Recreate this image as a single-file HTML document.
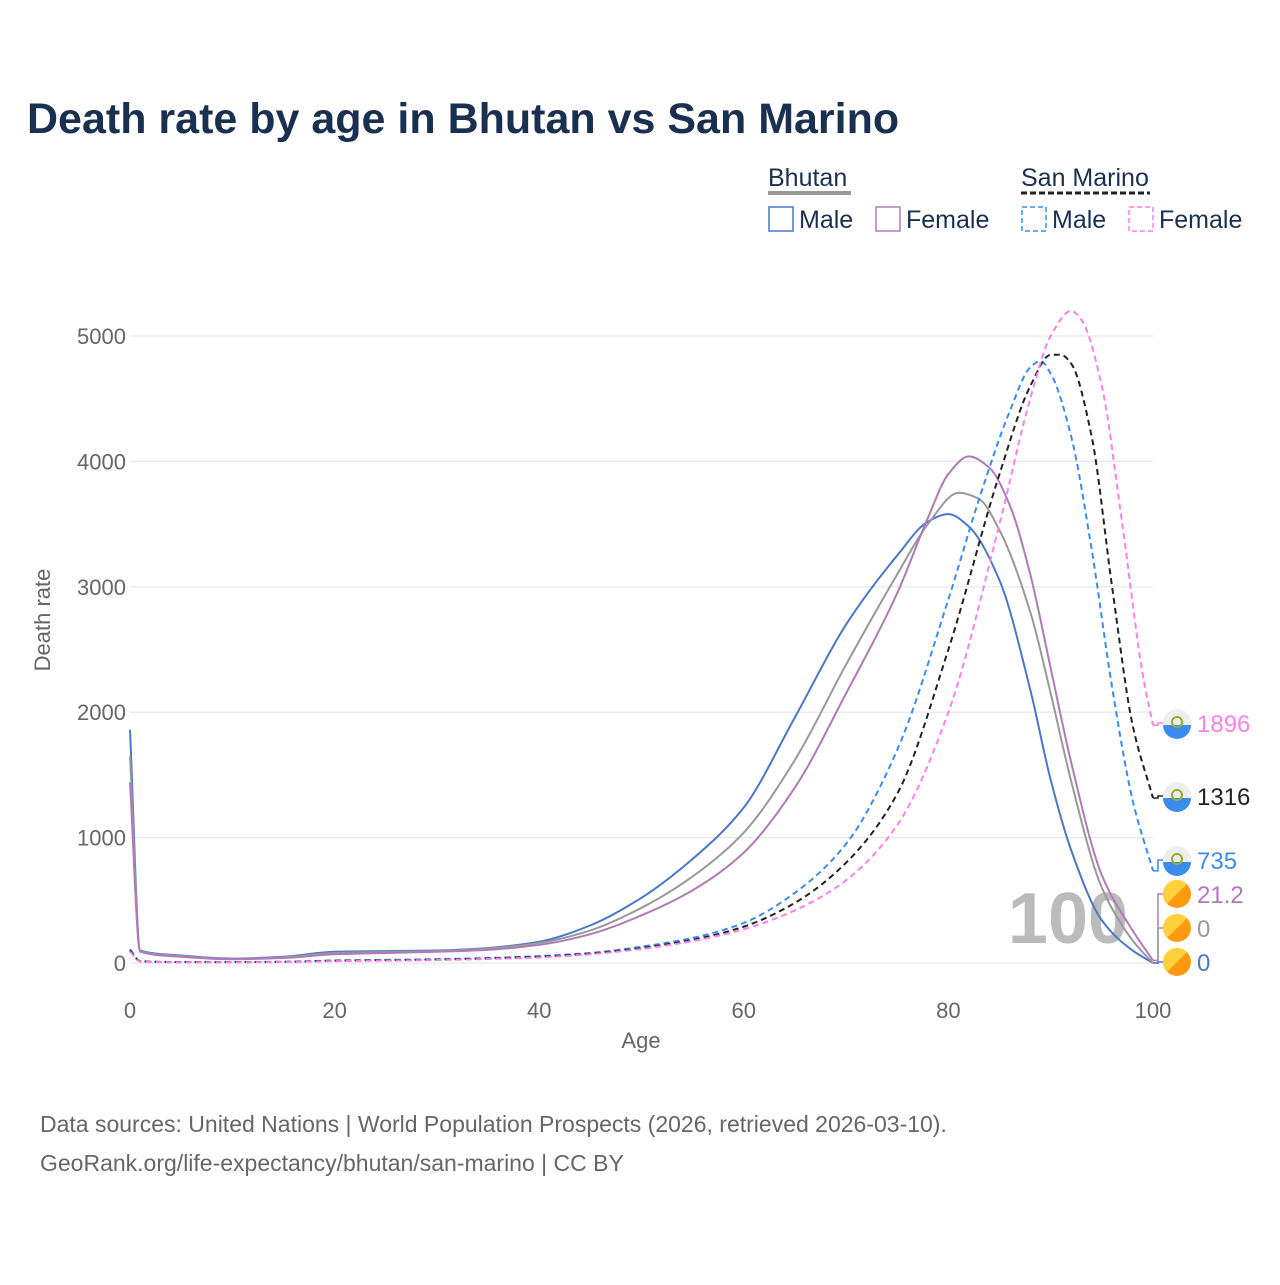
<!DOCTYPE html>
<html><head><meta charset="utf-8"><style>
body{margin:0;background:#fff;font-family:"Liberation Sans",sans-serif;}
svg text{font-family:"Liberation Sans",sans-serif;}
</style></head><body>
<svg width="1280" height="1280" viewBox="0 0 1280 1280">
<text x="27" y="133" font-size="43" font-weight="bold" fill="#1a3050">Death rate by age in Bhutan vs San Marino</text>
<g font-size="25" fill="#1a3050">
<text x="768" y="186" fill="#1a3050">Bhutan</text>
<line x1="768" y1="193" x2="851" y2="193" stroke="#999" stroke-width="4"/>
<text x="1021" y="186">San Marino</text>
<line x1="1021" y1="193" x2="1150" y2="193" stroke="#222" stroke-width="3" stroke-dasharray="6,3"/>
<rect x="769" y="207" width="24" height="24" fill="none" stroke="#4a78c8" stroke-width="1.5"/>
<text x="799" y="228">Male</text>
<rect x="876" y="207" width="24" height="24" fill="none" stroke="#b07ab8" stroke-width="1.5"/>
<text x="906" y="228">Female</text>
<rect x="1022" y="207" width="24" height="24" fill="none" stroke="#3a8cf0" stroke-width="1.5" stroke-dasharray="5,3"/>
<text x="1052" y="228">Male</text>
<rect x="1129" y="207" width="24" height="24" fill="none" stroke="#ff7fe8" stroke-width="1.5" stroke-dasharray="5,3"/>
<text x="1159" y="228">Female</text>
</g>
<g id="grid"></g>
<g id="axes"></g>
<text x="1068" y="943" font-size="72" font-weight="bold" fill="#bbb" text-anchor="middle">100</text>
<g id="lines"></g>
<g id="ends"></g>
<text x="50" y="620" font-size="22" fill="#666" text-anchor="middle" transform="rotate(-90 50 620)">Death rate</text>
<text x="641" y="1048" font-size="22" fill="#666" text-anchor="middle">Age</text>
<text x="40" y="1132" font-size="23" fill="#666">Data sources: United Nations | World Population Prospects (2026, retrieved 2026-03-10).</text>
<text x="40" y="1171" font-size="23" fill="#666">GeoRank.org/life-expectancy/bhutan/san-marino | CC BY</text>
</svg>
<script>
const yTicks=[0,1000,2000,3000,4000,5000];
const xTicks=[0,20,40,60,80,100];
const bmAge=[0,1,5,10,15,20,25,30,35,40,45,50,55,60,65,70,75,78,80,82,85,88,90,92,95,98,100];
const bmVal=[1860,100,60,35,50,90,95,100,120,170,300,520,830,1240,1960,2700,3250,3520,3580,3480,3050,2180,1460,900,340,100,0];
const bbAge=[0,1,5,10,15,20,25,30,35,40,45,50,55,60,65,70,75,78,81,83,85,88,90,92,95,98,100];
const bbVal=[1650,95,55,32,45,80,88,95,115,160,260,440,690,1040,1620,2380,3100,3500,3750,3700,3450,2800,2150,1450,600,180,0];
const bfAge=[0,1,5,10,15,20,25,30,35,40,45,50,55,60,65,70,75,78,80,82,84,86,88,90,92,95,98,100];
const bfVal=[1440,90,50,30,40,70,80,90,105,145,230,380,580,880,1400,2150,2950,3550,3900,4040,3950,3650,3100,2350,1600,700,260,21.2];
const smAge=[0,1,5,10,15,20,25,30,35,40,45,50,55,60,65,70,75,80,83,86,88,89,90,92,94,96,98,100];
const smVal=[110,15,8,8,10,20,25,30,40,55,80,130,200,320,560,950,1700,2900,3700,4400,4750,4800,4700,4200,3300,2200,1300,735];
const sbAge=[0,1,5,10,15,20,25,30,35,40,45,50,55,60,65,70,75,80,85,88,90,91,92,94,96,98,100];
const sbVal=[100,14,7,7,9,18,22,27,36,50,75,120,185,290,480,800,1350,2500,3900,4600,4850,4850,4780,4200,3000,1900,1316];
const sfAge=[0,1,5,10,15,20,25,30,35,40,45,50,55,60,65,70,75,80,85,88,90,92,93,95,97,99,100];
const sfVal=[90,12,6,6,8,15,19,24,32,45,70,112,175,270,420,660,1100,2000,3500,4500,5000,5200,5130,4600,3500,2300,1896];
const X=a=>130+a*10.23, Y=v=>963-v*0.1254;
const NS='http://www.w3.org/2000/svg';
function mk(t,at,p){const e=document.createElementNS(NS,t);for(const k in at)e.setAttribute(k,at[k]);p.appendChild(e);return e;}
const grid=document.getElementById('grid'),axes=document.getElementById('axes');
yTicks.forEach(v=>{const l=mk('line',{x1:130,x2:1153,y1:Y(v),y2:Y(v),stroke:'#e6e6e6','stroke-width':1.2},grid);


const t=mk('text',{x:126,y:Y(v)+8,'font-size':22,fill:'#666','text-anchor':'end'},axes);t.textContent=v;

});
xTicks.forEach(a=>{const t=mk('text',{x:X(a),y:1018,'font-size':22,fill:'#666','text-anchor':'middle'},axes);t.textContent=a;

});
function path(ag,vs){
const xs=ag.map(X),ys=vs.map(Y),n=xs.length;const d=[],m=new Array(n);
for(let i=0;i<n-1;i++)d.push((ys[i+1]-ys[i])/(xs[i+1]-xs[i]));
m[0]=d[0];m[n-1]=d[n-2];
for(let i=1;i<n-1;i++){if(d[i-1]*d[i]<=0)m[i]=0;else{const w1=2*(xs[i+1]-xs[i])+(xs[i]-xs[i-1]),w2=(xs[i+1]-xs[i])+2*(xs[i]-xs[i-1]);m[i]=(w1+w2)/(w1/d[i-1]+w2/d[i]);}}
let s='M'+xs[0]+','+ys[0];
for(let i=0;i<n-1;i++){const h=(xs[i+1]-xs[i])/3;s+=` C${xs[i]+h},${ys[i]+m[i]*h} ${xs[i+1]-h},${ys[i+1]-m[i+1]*h} ${xs[i+1]},${ys[i+1]}`;}
return s;}
const lines=document.getElementById('lines');
const series=[['bhutan-male',bmAge,bmVal,'#4a78c8',''],['bhutan-both',bbAge,bbVal,'#999',''],['bhutan-female',bfAge,bfVal,'#b07ab8',''],
['sanmarino-male',smAge,smVal,'#3a8cf0','6,4'],['sanmarino-both',sbAge,sbVal,'#222','6,4'],['sanmarino-female',sfAge,sfVal,'#ff7fe8','6,4']];
series.forEach(s=>{const e=mk('path',{d:path(s[1],s[2]),fill:'none',stroke:s[3],'stroke-width':2,'stroke-dasharray':s[4]},lines);

});
const ends=document.getElementById('ends');
const endLabels=[[sfVal[sfVal.length-1],723,'#ff7fe8','sm'],[sbVal[sbVal.length-1],796,'#222','sm'],[smVal[smVal.length-1],860,'#3a8cf0','sm'],
[bfVal[bfVal.length-1],894,'#b07ab8','bt'],[bbVal[bbVal.length-1],928,'#999','bt'],[bmVal[bmVal.length-1],962,'#4a78c8','bt']];
endLabels.forEach(e=>{const y0=Y(e[0]),c=e[1];
mk('polyline',{points:`1153,${y0} 1158,${y0} 1158,${c} 1164,${c}`,fill:'none',stroke:e[2],'stroke-width':1.5},ends);
if(e[3]==='sm'){mk('circle',{cx:1177,cy:c,r:14,fill:'#eee'},ends);mk('path',{d:`M1163,${c+2} H1191 A14,14 0 0 1 1163,${c+2}Z`,fill:'#3a8cf0'},ends);mk('circle',{cx:1177,cy:c-1,r:5,fill:'none',stroke:'#9a3','stroke-width':2},ends);}
else{mk('circle',{cx:1177,cy:c,r:14,fill:'#ff9a10'},ends);mk('path',{d:`M${1177-9.9},${c+9.9} L${1177+9.9},${c-9.9} A14,14 0 0 0 ${1177-9.9},${c+9.9}Z`,fill:'#ffd23c'},ends);}
const t=mk('text',{x:1197,y:c+9,'font-size':24,fill:e[2]},ends);t.textContent=e[0];

});
</script>
</body></html>
